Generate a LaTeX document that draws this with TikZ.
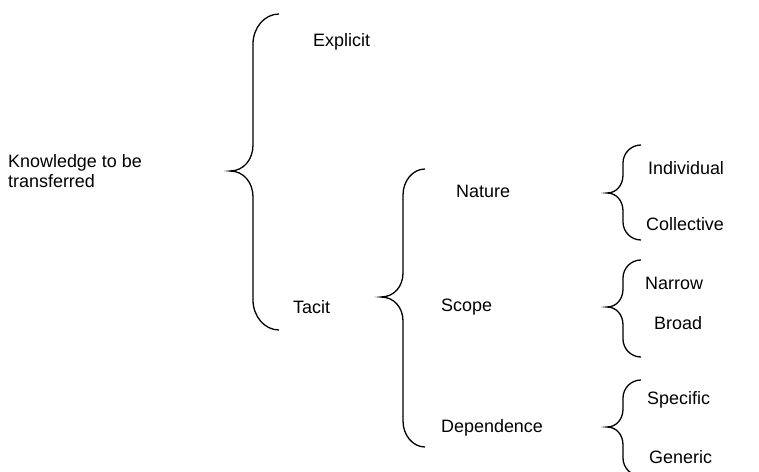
\documentclass[tikz,border=0pt]{standalone}
\usepackage{fontspec}
\setmainfont{Liberation Sans}
\newcommand\curlyb[8]{% xt xv xtip yt ytip yb rend rtip
  \draw[bracestyle] (#1,#4) .. controls ({#2+0.45*(#1-#2)},#4) and (#2,{#4+0.45*#7}) .. (#2,#4+#7)
    -- (#2,#5-#8)
    .. controls (#2,{#5-0.45*#8}) and ({#2-0.4*(#2-#3)},#5) .. (#3,#5)
    .. controls ({#2-0.4*(#2-#3)},#5) and (#2,{#5+0.45*#8}) .. (#2,#5+#8)
    -- (#2,#6-#7)
    .. controls (#2,{#6-0.45*#7}) and ({#2+0.45*(#1-#2)},#6) .. (#1,#6);}
\begin{document}
\begin{tikzpicture}[x=1bp,y=-1bp,
  bracestyle/.style={line width=1.3bp, black},
  lbl/.style={anchor=west, inner sep=0pt, font=\fontsize{18}{19.5}\selectfont}]
\useasboundingbox (0,0) rectangle (759,472);
\begin{scope}
\clip (0,0) rectangle (759,472);
\curlyb{279}{253}{230}{14}{171}{330}{30}{26}
\curlyb{425}{403}{381}{169}{297}{447}{26}{24}
\curlyb{641}{623}{607}{145}{193}{240}{18}{18}
\curlyb{641}{623}{607}{260}{307}{357}{18}{18}
\curlyb{641}{623}{607}{380}{427}{476}{18}{18}
\end{scope}
\node[lbl, align=left] (know) at (8,171) {Knowledge to be\\transferred};
\node[lbl] (expl) at (313,42) {Explicit};
\node[lbl] (tacit) at (293,307) {Tacit};
\node[lbl] (nat) at (456,191) {Nature};
\node[lbl] (scope) at (441,307) {Scope};
\node[lbl] (dep) at (441,428) {Dependence};
\node[lbl] (ind) at (648,168) {Individual};
\node[lbl] (col) at (646,224) {Collective};
\node[lbl] (nar) at (645,283) {Narrow};
\node[lbl] (bro) at (654,323) {Broad};
\node[lbl] (spe) at (647,400) {Specific};
\node[lbl] (gen) at (649,457) {Generic};
\end{tikzpicture}
\end{document}
